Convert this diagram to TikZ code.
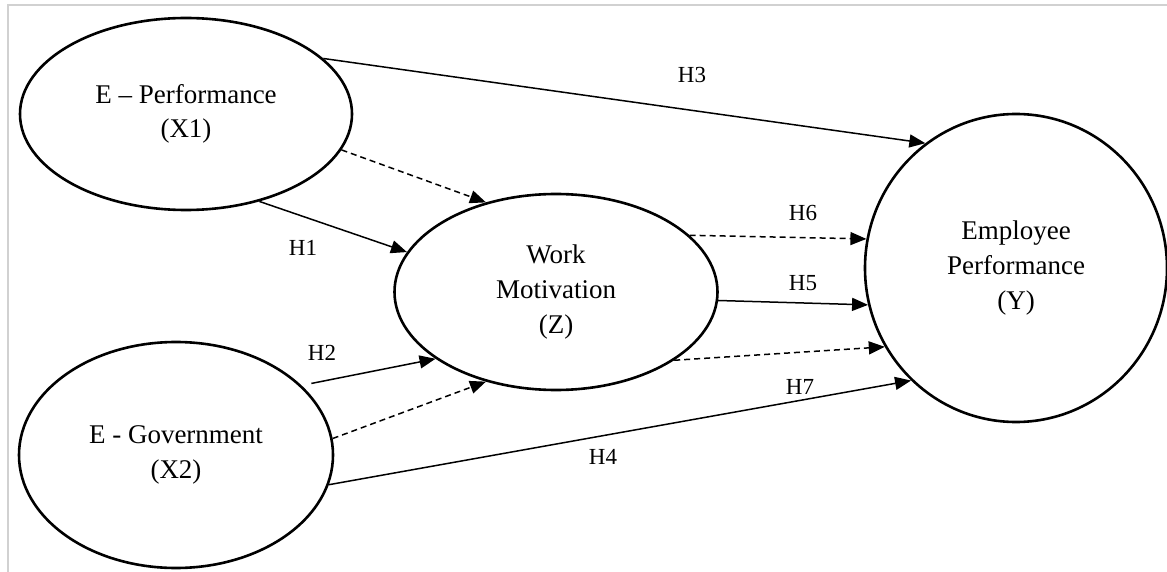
\documentclass[tikz,border=0pt]{standalone}
\usepackage{fontspec}
\setmainfont{Liberation Serif}
\usetikzlibrary{shapes.geometric,arrows.meta}
\tikzset{
  latent/.style={ellipse,draw,line width=1.3pt,inner sep=0pt,align=center,
    font=\fontsize{13.5}{17.3}\selectfont},
  hyp/.style={inner sep=0pt,font=\fontsize{11.5}{14}\selectfont},
  effect/.style={line width=0.75pt,-{Triangle[length=8pt,width=6.5pt]}},
  mediated/.style={effect,dash pattern=on 3pt off 2pt},
}
\begin{document}
\begin{tikzpicture}[x=0.5pt,y=-0.5pt]
\useasboundingbox (0,0) rectangle (1167,572);
\draw[black!18,line width=0.8pt] (8,572) -- (8,5) -- (1167,5);
% constructs
\node[latent,minimum width=166pt,minimum height=96pt] (eperf) at (186,114) {E – Performance\\(X1)};
\node[latent,minimum width=157pt,minimum height=113pt] (egov) at (176,455) {E - Government\\(X2)};
\node[latent,minimum width=161.5pt,minimum height=98pt] (motiv) at (556,292) {Work\\Motivation\\(Z)};
\node[latent,minimum width=151pt,minimum height=154pt] (empperf) at (1016,268) {Employee\\Performance\\(Y)};
% paths
\draw[effect] (eperf.22.6) -- (empperf.126.5);
\draw[mediated] (eperf.-13) -- (motiv.128.7);
\draw[effect] (eperf.-50.7) -- (motiv.165.4);
\draw[effect,shorten <=5pt] (egov.29) -- (motiv.209);
\draw[mediated] (egov.6.2) -- (motiv.232);
\draw[effect] (egov.-11) -- (empperf.227.5);
\draw[mediated] (motiv.23.3) -- (empperf.169.6);
\draw[effect] (motiv.-3.2) -- (empperf.194);
\draw[mediated] (motiv.-30.5) -- (empperf.211.8);
% hypotheses
\node[hyp] (h1) at (303,248) {H1};
\node[hyp] (h2) at (322,353) {H2};
\node[hyp] (h3) at (692,75) {H3};
\node[hyp] (h4) at (603,457) {H4};
\node[hyp] (h5) at (803,283) {H5};
\node[hyp] (h6) at (803,213) {H6};
\node[hyp] (h7) at (800,387) {H7};
\end{tikzpicture}
\end{document}
